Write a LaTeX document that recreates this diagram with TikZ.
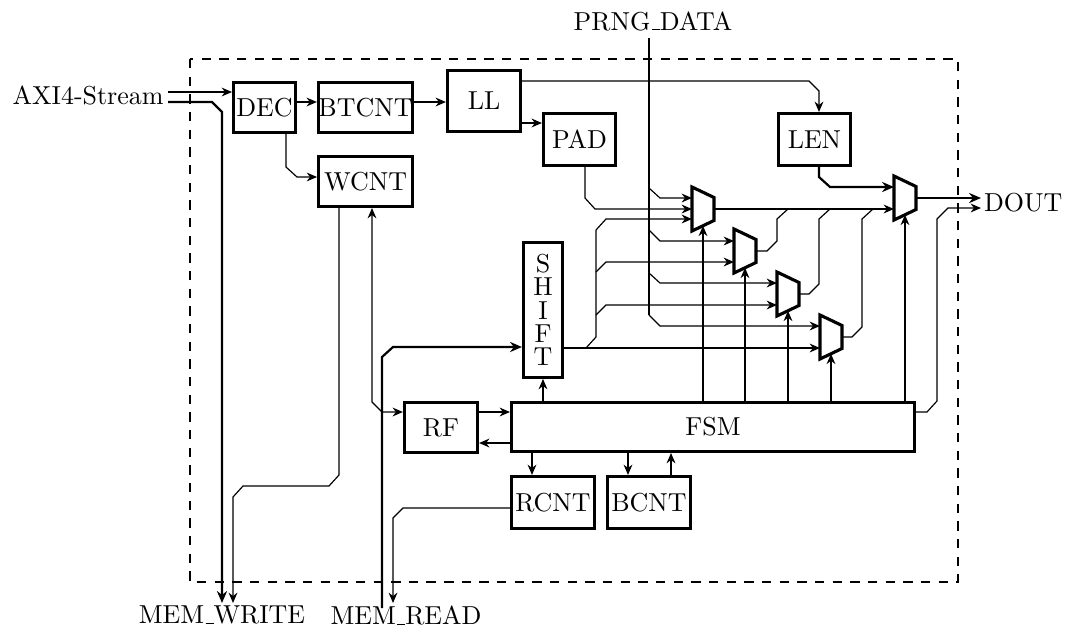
\documentclass[tikz,border=0pt]{standalone}
\usetikzlibrary{arrows.meta}
\newcommand{\usc}{\leavevmode\kern.06em\vbox{\hrule width.3em}}
\begin{document}
\tikzset{
  blk/.style={draw, line width=1.2pt, inner sep=0pt, align=center},
  lbl/.style={inner sep=0pt},
  sig/.style={line width=0.45pt},
  bus/.style={line width=0.85pt},
  arr/.style={-{Stealth[length=4pt,width=3.4pt,inset=1.3pt]}},
  barr/.style={{Stealth[length=4pt,width=3.4pt,inset=1.3pt]}-{Stealth[length=4pt,width=3.4pt,inset=1.3pt]}},
  tarr/.style={-{Stealth[length=4.6pt,width=3.9pt,inset=1.5pt]}},
  border/.style={line width=0.45pt, dash pattern=on 3.6pt off 3.2pt},
  mux/.pic={
    \draw[line width=1.2pt, line join=miter] (-11,-22) -- (11,-11.5) -- (11,11.5) -- (-11,22) -- cycle;
    \coordinate (-out) at (11,0);
    \coordinate (-sel) at (0,16.75);
    \coordinate (-in) at (-11,0);
  }
}
\begin{tikzpicture}[x=0.385pt,y=-0.385pt]
\useasboundingbox (0,0) rectangle (1065,626);
\draw[border] (190,59) rectangle (958,582);

% blocks
\node[blk, minimum width=23.8pt, minimum height=19.2pt] (dec) at (264.5,107.5) {DEC};
\node[blk, minimum width=36.1pt, minimum height=19.2pt] (btcnt) at (365.5,107.5) {BTCNT};
\node[blk, minimum width=36.1pt, minimum height=19.2pt] (wcnt) at (365.5,181.5) {WCNT};
\node[blk, minimum width=28.1pt, minimum height=23.4pt] (ll) at (484,101) {LL};
\node[blk, minimum width=27.7pt, minimum height=20pt] (pad) at (579.5,139.5) {PAD};
\node[blk, minimum width=27.7pt, minimum height=20pt] (len) at (814.5,139.5) {LEN};
\node[blk, minimum width=15pt, minimum height=51.9pt] (shift) at (543,310) {S\\[-3pt]H\\[-3pt]I\\[-3pt]F\\[-3pt]T};
\node[blk, minimum width=28.1pt, minimum height=19.2pt] (rf) at (441,427.5) {RF};
\node[blk, minimum width=155.1pt, minimum height=18.8pt] (fsm) at (713,427) {FSM};
\node[blk, minimum width=31.9pt, minimum height=20pt] (rcnt) at (553,502.5) {RCNT};
\node[blk, minimum width=31.9pt, minimum height=20pt] (bcnt) at (649,502.5) {BCNT};

% muxes
\pic (m1) at (703,209) {mux};
\pic (m2) at (745,251) {mux};
\pic (m3) at (788,294) {mux};
\pic (m4) at (831,337) {mux};
\pic (m5) at (905,198) {mux};

% labels
\node[lbl, inner sep=1.5pt, anchor=east] (axi) at (168,95) {AXI4-Stream};
\node[lbl, anchor=base] (prng) at (653,30) {PRNG\usc DATA};
\node[lbl, inner sep=1pt, anchor=west] (dout) at (981,203) {DOUT};
\node[lbl, inner sep=1pt, anchor=north] (memw) at (222,603) {MEM\usc WRITE};
\node[lbl, inner sep=1pt, anchor=north] (memr) at (406,603) {MEM\usc READ};
\coordinate (prngsrc) at (649,38);
\coordinate (memrsrc) at (382,608);

% AXI4-Stream input
\draw[sig,arr] (axi.east |- 0,92) -- (dec.west |- 0,92);
\draw[bus,tarr] (axi.east |- 0,102) -- (212,102) -- (222,112) -- (memw.north);

% front chain
\draw[sig,arr] (dec.east |- 0,102) -- (btcnt.west |- 0,102);
\draw[sig,arr] (dec.south -| 286,0) -- (286,167) -- (297,177) -- (wcnt.west |- 0,177);
\draw[sig,arr] (btcnt.east |- 0,102) -- (ll.west |- 0,102);
\draw[sig,arr] (ll.east |- 0,123) -- (pad.west |- 0,123);
\draw[sig,arr] (ll.east |- 0,81) -- (809,81) -- (819,91) -- (len.north -| 819,0);

% PAD to mux1
\draw[sig,arr] (pad.south -| 585,0) -- (585,198) -- (595,209) -- (m1-in |- 0,209);

% PRNG_DATA
\draw[bus] (prngsrc) -- (649,188);
\draw[sig] (649,187) -- (649,315);
\draw[sig,arr] (649,188) -- (660,198) -- (m1-in |- 0,198);
\draw[sig,arr] (649,230) -- (660,241) -- (m2-in |- 0,241);
\draw[sig,arr] (649,273) -- (660,283) -- (m3-in |- 0,283);
\draw[sig,arr] (649,315) -- (660,326) -- (m4-in |- 0,326);

% SHIFT output
\draw[sig,arr] (shift.east |- 0,348) -- (m4-in |- 0,348);
\draw[sig] (586,348) -- (596,337) -- (596,230);
\draw[sig,arr] (596,230) -- (606,219) -- (m1-in |- 0,219);
\draw[sig,arr] (596,272) -- (606,262) -- (m2-in |- 0,262);
\draw[sig,arr] (596,315) -- (606,305) -- (m3-in |- 0,305);

% mux outputs
\draw[sig,arr] (m1-out) -- (m5-in |- 0,209);
\draw[sig] (m2-out) -- (767,251) -- (777,241) -- (777,219) -- (788,209);
\draw[sig] (m3-out) -- (809,294) -- (819,284) -- (819,219) -- (830,209);
\draw[sig] (m4-out) -- (852,337) -- (862,327) -- (862,219) -- (873,209);

% LEN to mux5
\draw[bus,tarr] (len.south -| 819,0) -- (819,177) -- (830,187) -- (m5-in |- 0,187);

% outputs
\draw[bus,tarr] (m5-out) -- (dout.west |- 0,198);
\draw[sig,arr] (fsm.east |- 0,412) -- (927,412) -- (937,401) -- (937,219) -- (948,208) -- (dout.west |- 0,208);

% FSM selects
\draw[sig,arr] (fsm.north -| 703,0) -- (m1-sel);
\draw[sig,arr] (fsm.north -| 745,0) -- (m2-sel);
\draw[sig,arr] (fsm.north -| 788,0) -- (m3-sel);
\draw[sig,arr] (fsm.north -| 831,0) -- (m4-sel);
\draw[sig,arr] (fsm.north -| 905,0) -- (m5-sel);
\draw[sig,arr] (fsm.north -| 543,0) -- (shift.south);

% RF / FSM
\draw[sig,arr] (rf.east |- 0,412) -- (fsm.west |- 0,412);
\draw[sig,arr] (fsm.west |- 0,443) -- (rf.east |- 0,443);
\draw[sig,barr] (wcnt.south -| 372,0) -- (372,402) -- (382,412) -- (rf.west |- 0,412);

% memory
\draw[sig,arr] (wcnt.south -| 339,0) -- (339,475) -- (329,486) -- (243,486) -- (233,497) -- (memw.north -| 233,0);
\draw[bus,tarr] (memrsrc) -- (382,357) -- (393,347) -- (shift.west |- 0,347);
\draw[sig,arr] (rcnt.west |- 0,508) -- (403,508) -- (393,518) -- (memr.north -| 393,0);

% counters
\draw[sig,arr] (fsm.south -| 532,0) -- (rcnt.north -| 532,0);
\draw[sig,arr] (fsm.south -| 628,0) -- (bcnt.north -| 628,0);
\draw[sig,arr] (bcnt.north -| 671,0) -- (fsm.south -| 671,0);
\end{tikzpicture}
\end{document}
